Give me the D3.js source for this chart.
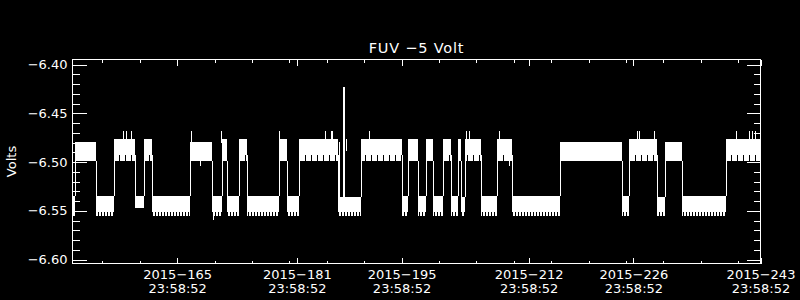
<!DOCTYPE html>
<html>
<head>
<meta charset="utf-8">
<script src="https://cdn.jsdelivr.net/npm/d3@7/dist/d3.min.js"></script>
<style>
    body { margin: 0; background: #000; }
    svg text { font-family: "DejaVu Sans", sans-serif; fill: #fff; }
</style>
</head>
<body>
<script>
// segment edges, day of year 2015 (n+1 values for n segments)
var segEdges = [151, 151.33, 154.10, 156.59, 159.36, 160.56, 161.67, 166.71, 169.61, 170.95,
    171.62, 173.31, 174.38, 178.65, 179.64, 181.33, 186.46, 189.62, 195.02, 195.90,
    197.24, 198.27, 199.25, 200.59, 201.57, 202.59, 202.91, 203.53, 205.59, 207.73,
    209.73, 216.22, 224.46, 225.35, 229.14, 230.21, 232.53, 238.37, 243];
// solid band of each segment (volts)
var segLo = [-6.5556, -6.4985, -6.5508, -6.4933, -6.5474, -6.4933, -6.5508, -6.4985, -6.5508, -6.4985,
    -6.5508, -6.4933, -6.5508, -6.4985, -6.5508, -6.4933, -6.5508, -6.4933, -6.5508, -6.4985,
    -6.5508, -6.4985, -6.5508, -6.4933, -6.5508, -6.4985, -6.5508, -6.4933, -6.5508, -6.4933,
    -6.5508, -6.4985, -6.5508, -6.4933, -6.5508, -6.4985, -6.5508, -6.4933];
var segHi = [-6.5353, -6.4790, -6.5344, -6.4761, -6.5344, -6.4761, -6.5344, -6.4790, -6.5344, -6.4761,
    -6.5344, -6.4761, -6.5344, -6.4761, -6.5344, -6.4761, -6.5364, -6.4761, -6.5344, -6.4761,
    -6.5344, -6.4761, -6.5344, -6.4761, -6.5344, -6.4761, -6.5364, -6.4761, -6.5344, -6.4761,
    -6.5344, -6.4790, -6.5344, -6.4761, -6.5364, -6.4790, -6.5344, -6.4761];
// lowest excursion of each segment (drawn as sparse needles)
var segMin = [-6.5556, -6.4985, -6.5556, -6.4985, -6.5474, -6.4985, -6.5556, -6.4985, -6.5556, -6.4985,
    -6.5556, -6.4985, -6.5556, -6.4985, -6.5556, -6.4985, -6.5556, -6.4985, -6.5556, -6.4985,
    -6.5556, -6.4985, -6.5556, -6.4985, -6.5556, -6.4985, -6.5556, -6.4985, -6.5556, -6.4985,
    -6.5556, -6.4985, -6.5556, -6.4985, -6.5556, -6.4985, -6.5556, -6.4985];

// single spikes: day, from, to
var spikeDays = [157.79, 158.15, 158.78, 166.85, 170.86, 178.65, 184.77, 185.57, 185.74, 190.65,
    203.62, 204.02, 208.07, 226.53, 226.80, 228.80, 239.72, 241.50, 241.82, 242.26,
    168.05, 169.75, 209.41, 186.60, 187.60];
var spikeFrom = [-6.48, -6.48, -6.48, -6.48, -6.48, -6.48, -6.48, -6.48, -6.48, -6.48,
    -6.48, -6.48, -6.48, -6.48, -6.48, -6.48, -6.48, -6.48, -6.48, -6.48,
    -6.49, -6.55, -6.49, -6.479, -6.4761];
var spikeTo = [-6.4687, -6.4687, -6.4687, -6.4687, -6.4687, -6.4687, -6.4687, -6.4687, -6.4687, -6.4687,
    -6.4687, -6.4687, -6.4687, -6.4687, -6.4687, -6.4687, -6.4687, -6.4687, -6.4687, -6.4687,
    -6.5036, -6.5593, -6.5036, -6.5364, -6.489];
// the big glitch
var glitchDay = 187.21;
var glitchFrom = -6.545;
var glitchTo = -6.4233;

var xMajor = [165, 181, 195, 212, 226, 243];
var xMajorLabels = ['2015\u2212165', '2015\u2212181', '2015\u2212195', '2015\u2212212', '2015\u2212226', '2015\u2212243'];
var xTimeLabel = '23:58:52';
var xMinor = [155, 160, 170, 175, 180, 185, 190, 200, 205, 210, 215, 220, 225, 230, 235, 240];
var yMajor = [-6.60, -6.55, -6.50, -6.45, -6.40];
var yMinor = [-6.59, -6.58, -6.57, -6.56, -6.54, -6.53, -6.52, -6.51, -6.49, -6.48, -6.47, -6.46,
    -6.44, -6.43, -6.42, -6.41];

var titleText = 'FUV \u22125 Volt';
var yTitle = 'Volts';

var W = 800, H = 300;
var plotL = 72.5, plotR = 760.5, plotT = 59.5, plotB = 263.5;

var svg = d3.select('body').append('svg')
    .attr('width', W)
    .attr('height', H)
    .style('display', 'block')
    .style('background', '#000');

var xScale = d3.scaleLinear().domain([151, 243]).range([plotL, plotR]);
var yScale = d3.scaleLinear().domain([-6.6041, -6.39487]).range([plotB, plotT]);

// needle textures for the noisy edges of the bands
var defs = svg.append('defs');
function addComb(id, period, on) {
    defs.append('pattern')
        .attr('id', id)
        .attr('patternUnits', 'userSpaceOnUse')
        .attr('width', period).attr('height', 20)
        .append('rect')
        .attr('x', 0).attr('y', 0)
        .attr('width', on).attr('height', 20)
        .attr('fill', '#fff');
}
addComb('combLow', 3, 2);
addComb('combHigh', 6, 5);

var segs = d3.range(segLo.length).map(function (i) {
    return {x0: segEdges[i], x1: segEdges[i + 1], lo: segLo[i], hi: segHi[i], min: segMin[i]};
});

var plot = svg.append('g').attr('shape-rendering', 'crispEdges');

function segX(d) { return Math.round(xScale(d.x0)); }
function segW(d) { return Math.max(1, Math.round(xScale(d.x1)) - Math.round(xScale(d.x0))); }

// comb below each band
plot.selectAll('rect.comb')
    .data(segs.filter(function (d) { return d.min < d.lo; }))
    .enter().append('rect')
    .attr('class', 'comb')
    .attr('x', segX)
    .attr('width', segW)
    .attr('y', function (d) { return Math.round(yScale(d.lo)); })
    .attr('height', function (d) { return Math.round(yScale(d.min)) - Math.round(yScale(d.lo)); })
    .attr('fill', function (d) { return d.lo > -6.52 ? 'url(#combHigh)' : 'url(#combLow)'; });

// solid bands
plot.selectAll('rect.band')
    .data(segs)
    .enter().append('rect')
    .attr('class', 'band')
    .attr('x', segX)
    .attr('width', segW)
    .attr('y', function (d) { return Math.round(yScale(d.hi)); })
    .attr('height', function (d) { return Math.round(yScale(d.lo)) - Math.round(yScale(d.hi)); })
    .attr('fill', '#fff');

// steps between segments
var steps = d3.range(1, segs.length).map(function (i) {
    var a = segs[i - 1], b = segs[i];
    return {x: b.x0, y0: Math.max(a.lo, b.lo), y1: Math.min(a.hi, b.hi)};
});
plot.selectAll('line.step')
    .data(steps)
    .enter().append('line')
    .attr('class', 'step')
    .attr('x1', function (d) { return Math.round(xScale(d.x)) + 0.5; })
    .attr('x2', function (d) { return Math.round(xScale(d.x)) + 0.5; })
    .attr('y1', function (d) { return yScale(d.y0); })
    .attr('y2', function (d) { return yScale(d.y1); })
    .attr('stroke', '#fff');

// spikes
plot.selectAll('line.spike')
    .data(spikeDays)
    .enter().append('line')
    .attr('class', 'spike')
    .attr('x1', function (d) { return Math.round(xScale(d)) + 0.5; })
    .attr('x2', function (d) { return Math.round(xScale(d)) + 0.5; })
    .attr('y1', function (d, i) { return yScale(spikeFrom[i]); })
    .attr('y2', function (d, i) { return yScale(spikeTo[i]); })
    .attr('stroke', '#fff');

plot.append('line')
    .attr('x1', Math.round(xScale(glitchDay)) + 1)
    .attr('x2', Math.round(xScale(glitchDay)) + 1)
    .attr('y1', yScale(glitchFrom))
    .attr('y2', yScale(glitchTo))
    .attr('stroke', '#fff')
    .attr('stroke-width', 2);

// frame
svg.append('rect')
    .attr('x', plotL).attr('y', plotT)
    .attr('width', plotR - plotL).attr('height', plotB - plotT)
    .attr('fill', 'none')
    .attr('stroke', '#fff')
    .attr('shape-rendering', 'crispEdges');

function styleAxis(g) {
    g.select('.domain').remove();
    g.selectAll('line').attr('stroke', '#fff').attr('shape-rendering', 'crispEdges');
    g.selectAll('text').attr('fill', '#fff').style('font-size', '13px');
}

// x axis bottom
svg.append('g')
    .attr('transform', 'translate(0,' + plotB + ')')
    .call(d3.axisBottom(xScale).tickValues(xMinor).tickSizeInner(-3).tickSizeOuter(0).tickFormat(''))
    .call(styleAxis);
var xAxisBottom = svg.append('g')
    .attr('transform', 'translate(0,' + plotB + ')')
    .call(d3.axisBottom(xScale).tickValues(xMajor).tickSizeInner(-6).tickSizeOuter(0).tickPadding(6)
        .tickFormat(function (d, i) { return xMajorLabels[i]; }))
    .call(styleAxis);
xAxisBottom.selectAll('text')
    .attr('dy', null)
    .each(function (d, i) {
        var t = d3.select(this);
        t.text(null);
        t.append('tspan').attr('x', 0).attr('y', 15).text(xMajorLabels[i]);
        t.append('tspan').attr('x', 0).attr('y', 29).text(xTimeLabel);
    });

// x axis top
svg.append('g')
    .attr('transform', 'translate(0,' + plotT + ')')
    .call(d3.axisTop(xScale).tickValues(xMinor).tickSizeInner(-3).tickSizeOuter(0).tickFormat(''))
    .call(styleAxis);
svg.append('g')
    .attr('transform', 'translate(0,' + plotT + ')')
    .call(d3.axisTop(xScale).tickValues(xMajor).tickSizeInner(-6).tickSizeOuter(0).tickFormat(''))
    .call(styleAxis);

// y axis left
svg.append('g')
    .attr('transform', 'translate(' + plotL + ',0)')
    .call(d3.axisLeft(yScale).tickValues(yMinor).tickSizeInner(-7).tickSizeOuter(0).tickFormat(''))
    .call(styleAxis);
svg.append('g')
    .attr('transform', 'translate(' + plotL + ',0)')
    .call(d3.axisLeft(yScale).tickValues(yMajor).tickSizeInner(-14).tickSizeOuter(0).tickPadding(5)
        .tickFormat(function (d) { return d3.format('.2f')(d).replace('-', '\u2212'); }))
    .call(styleAxis);

// y axis right
svg.append('g')
    .attr('transform', 'translate(' + plotR + ',0)')
    .call(d3.axisRight(yScale).tickValues(yMinor).tickSizeInner(-7).tickSizeOuter(0).tickFormat(''))
    .call(styleAxis);
svg.append('g')
    .attr('transform', 'translate(' + plotR + ',0)')
    .call(d3.axisRight(yScale).tickValues(yMajor).tickSizeInner(-14).tickSizeOuter(0).tickFormat(''))
    .call(styleAxis);

// titles
svg.append('text')
    .attr('x', (plotL + plotR) / 2)
    .attr('y', 53)
    .attr('text-anchor', 'middle')
    .style('font-size', '14.5px')
    .style('letter-spacing', '0.8px')
    .text(titleText);

svg.append('text')
    .attr('transform', 'translate(16,' + ((plotT + plotB) / 2) + ') rotate(-90)')
    .attr('text-anchor', 'middle')
    .style('font-size', '13px')
    .text(yTitle);
</script>
</body>
</html>
